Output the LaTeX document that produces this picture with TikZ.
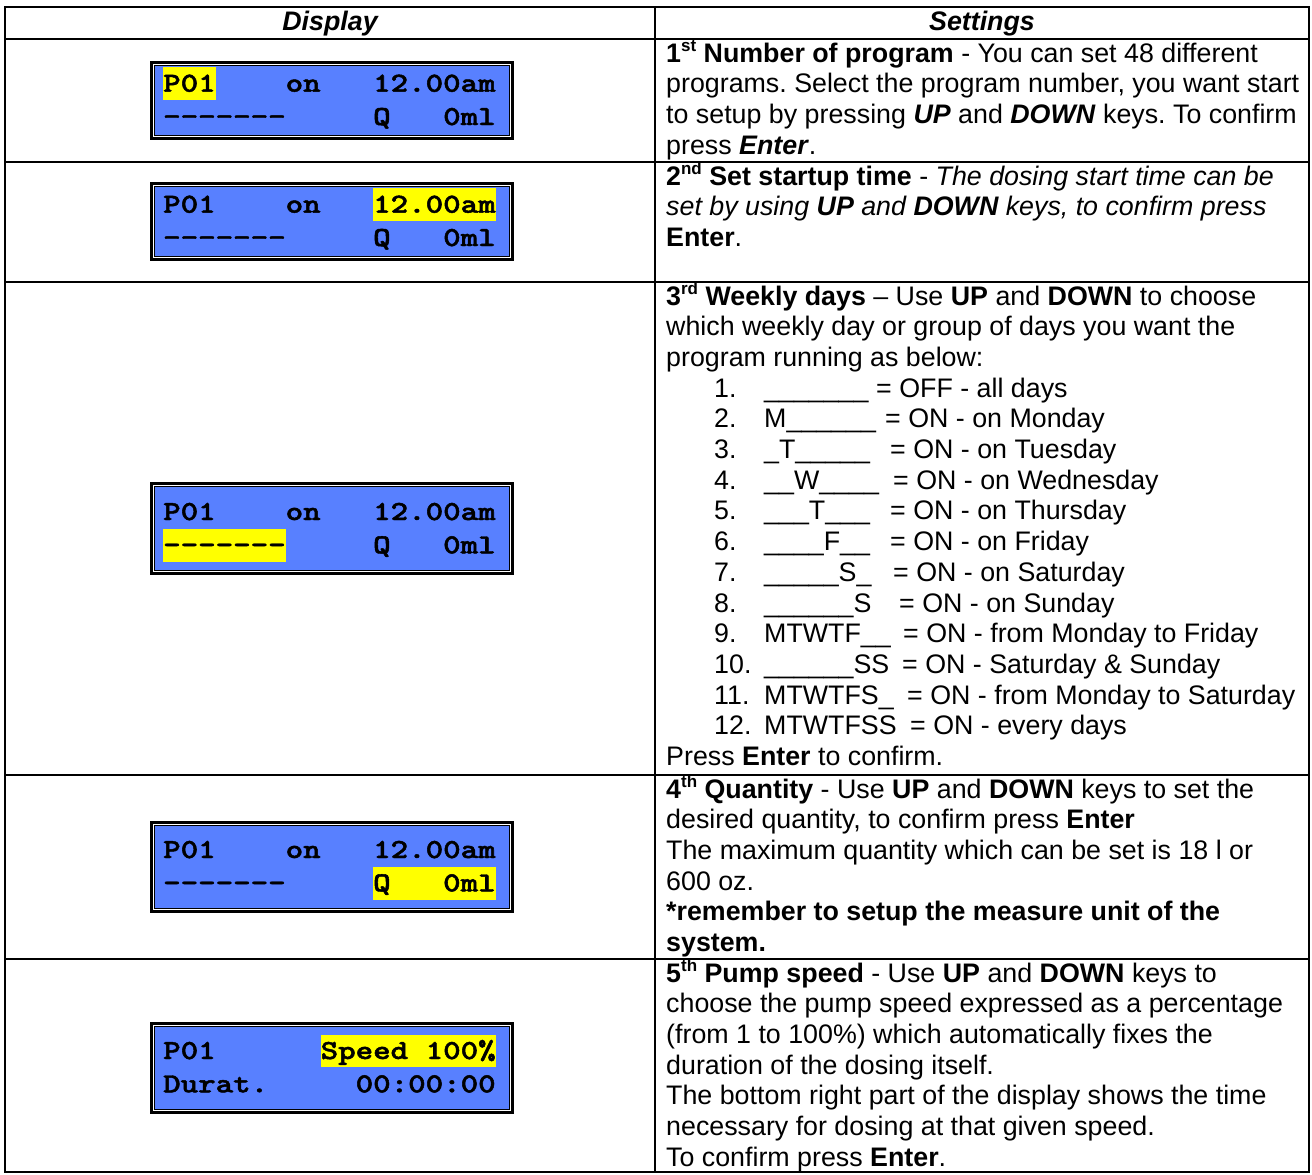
\documentclass[tikz,border=0pt]{standalone}
\usepackage{fontspec}
\usepackage{graphicx}
\setmainfont{Liberation Sans}
\newfontfamily\lcdfont{lmmonolt10-bold.otf}[FakeBold=1.6]
\definecolor{lcdblue}{RGB}{88, 128, 255}
\definecolor{lcdyellow}{RGB}{255, 255, 0}
\newcommand{\sups}[1]{\raisebox{11pt}{\fontsize{17}{17}\selectfont #1}}
\newcommand{\hl}[1]{{\setlength{\fboxsep}{0pt}\colorbox{lcdyellow}{\rule[-8.3pt]{0pt}{32.8pt}#1}}}
\newcommand{\dashes}{-{}-{}-{}-{}-{}-{}-}
\newcommand{\lcdline}[1]{\scalebox{1.212}[1]{#1}}

\begin{document}
\frenchspacing
\begin{tikzpicture}[x=1pt, y=-1pt,
    txt/.style={anchor=base west, inner sep=0pt, font=\fontsize{26.8}{30.7}\selectfont},
    head/.style={anchor=base, inner sep=0pt, font=\fontsize{26.8}{30.7}\selectfont\bfseries\itshape},
    lcd/.style={draw=black, line width=1.6pt, double=white, double distance=1.2pt, fill=lcdblue,
        preaction={draw=black, line width=6.5pt}, minimum width=357.5pt, inner sep=0pt},
    lcdtxt/.style={anchor=base west, inner sep=0pt, font=\lcdfont\fontsize{27.5}{33}\selectfont},
    grid/.style={line width=1.6pt}]
\useasboundingbox (0,0) rectangle (1312,1175);

\draw[grid] (5,7) rectangle (1309,1172);
\draw[grid] (655,7) -- (655,1172);
\foreach \y in {39,162,282,775,959}
    \draw[grid] (5,\y) -- (1309,\y);

\node[head] (hd) at (330,30) {Display};
\node[head] (hs) at (982,30) {Settings};

\foreach \n/\yt/\yb/\off/\la/\lb in {
    1/61/140/30.7/{\hl{P01}~~~~on~~~12.00am}/{\dashes~~~~~Q~~~0ml},
    2/182/261/30.7/{P01~~~~on~~~\hl{12.00am}}/{\dashes~~~~~Q~~~0ml},
    3/482/575/38/{P01~~~~on~~~12.00am}/{\hl{\dashes}~~~~~Q~~~0ml},
    4/821/913/37/{P01~~~~on~~~12.00am}/{\dashes~~~~~\hl{Q~~~0ml}},
    5/1022/1114/37/{P01~~~~~~\hl{Speed~100\%}}/{Durat.~~~~~00:00:00}}
{
    \pgfmathsetmacro{\hgt}{\yb-\yt-6.5}
    \node[lcd, minimum height=\hgt pt] (d\n) at (332,{(\yt+\yb)/2}) {};
    \node[lcdtxt] (d\n a) at (163,{\yt+\off}) {\lcdline{\la}};
    \node[lcdtxt] (d\n b) at (163,{\yt+\off+33.3}) {\lcdline{\lb}};
}

\node[txt] (s1a) at (666,62) {\textbf{1\sups{st} Number of program} - You can set 48 different};
\node[txt] (s1b) at (666,92.7) {programs. Select the program number, you want start};
\node[txt] (s1c) at (666,123.4) {to setup by pressing \textbf{\textit{UP}} and \textbf{\textit{DOWN}} keys. To confirm};
\node[txt] (s1d) at (666,154.1) {press \textbf{\textit{Enter}}.};

\node[txt] (s2a) at (666,185) {\textbf{2\sups{nd} Set startup time} - \textit{The dosing start time can be}};
\node[txt] (s2b) at (666,215.7) {\textit{set by using \textbf{UP} and \textbf{DOWN} keys, to confirm press}};
\node[txt] (s2c) at (666,246.4) {\textbf{Enter}.};

\node[txt] (s3a) at (666,305) {\textbf{3\sups{rd} Weekly days} – Use \textbf{UP} and \textbf{DOWN} to choose};
\node[txt] (s3b) at (666,335.7) {which weekly day or group of days you want the};
\node[txt] (s3c) at (666,366.4) {program running as below:};
\foreach \i/\pat/\ex/\txt in {
    1/{\_\_\_\_\_\_\_}/876/{= OFF - all days},
    2/{M\_\_\_\_\_\_}/885/{= ON - on Monday},
    3/{\_T\_\_\_\_\_}/890/{= ON - on Tuesday},
    4/{\_\_W\_\_\_\_}/893/{= ON - on Wednesday},
    5/{\_\_\_T\_\_\_}/890/{= ON - on Thursday},
    6/{\_\_\_\_F\_\_}/890/{= ON - on Friday},
    7/{\_\_\_\_\_S\_}/893/{= ON - on Saturday},
    8/{\_\_\_\_\_\_S}/899/{= ON - on Sunday},
    9/{MTWTF\_\_}/903/{= ON - from Monday to Friday},
    10/{\_\_\_\_\_\_SS}/902/{= ON - Saturday \& Sunday},
    11/{MTWTFS\_}/907/{= ON - from Monday to Saturday},
    12/{MTWTFSS}/910/{= ON - every days}}
{
    \node[txt] (n\i) at (714,{305+(\i+2)*30.7}) {\i.};
    \node[txt] (p\i) at (764,{305+(\i+2)*30.7}) {\pat};
    \node[txt] (e\i) at (\ex,{305+(\i+2)*30.7}) {\txt};
}
\node[txt] (s3d) at (666,765.5) {Press \textbf{Enter} to confirm.};

\node[txt] (s4a) at (666,798) {\textbf{4\sups{th} Quantity} - Use \textbf{UP} and \textbf{DOWN} keys to set the};
\node[txt] (s4b) at (666,828.7) {desired quantity, to confirm press \textbf{Enter}};
\node[txt] (s4c) at (666,859.4) {The maximum quantity which can be set is 18 l or};
\node[txt] (s4d) at (666,890.1) {600 oz.};
\node[txt] (s4e) at (666,920.8) {\textbf{*remember to setup the measure unit of the}};
\node[txt] (s4f) at (666,951.5) {\textbf{system.}};

\node[txt] (s5a) at (666,982) {\textbf{5\sups{th} Pump speed} - Use \textbf{UP} and \textbf{DOWN} keys to};
\node[txt] (s5b) at (666,1012.7) {choose the pump speed expressed as a percentage};
\node[txt] (s5c) at (666,1043.4) {(from 1 to 100\%) which automatically fixes the};
\node[txt] (s5d) at (666,1074.1) {duration of the dosing itself.};
\node[txt] (s5e) at (666,1104.8) {The bottom right part of the display shows the time};
\node[txt] (s5f) at (666,1135.5) {necessary for dosing at that given speed.};
\node[txt] (s5g) at (666,1166.2) {To confirm press \textbf{Enter}.};
\end{tikzpicture}
\end{document}
